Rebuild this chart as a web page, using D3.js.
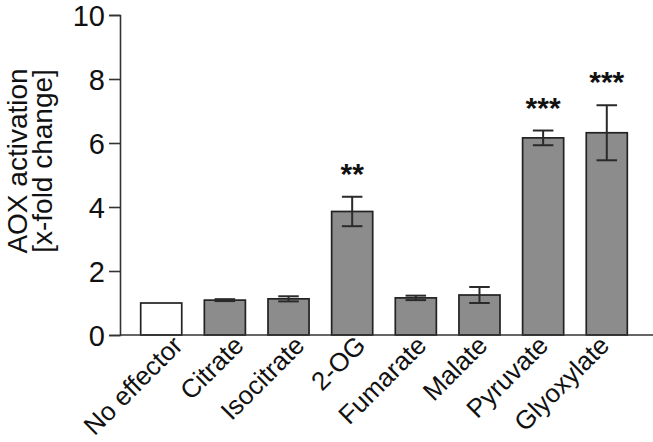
<!DOCTYPE html>
<html>
<head>
<meta charset="utf-8">
<script src="https://cdn.jsdelivr.net/npm/d3@7"></script>
<style>
  body { margin: 0; background: #fff; }
  text { font-family: "Liberation Sans", Arial, sans-serif; }
</style>
</head>
<body>
<svg id="chart"></svg>
<script>
const categories = ["No effector", "Citrate", "Isocitrate", "2-OG", "Fumarate", "Malate", "Pyruvate", "Glyoxylate"];
const means = [1.0, 1.09, 1.13, 3.86, 1.16, 1.25, 6.16, 6.32];
const errors = [0, 0.03, 0.08, 0.46, 0.07, 0.25, 0.23, 0.86];
const stars = ["", "", "", "**", "", "", "***", "***"];
const yTicks = [0, 2, 4, 6, 8, 10];

const width = 653, height = 442;
const margin = { top: 15, right: 5, bottom: 107, left: 120 };

const svg = d3.select("#chart")
  .attr("width", width)
  .attr("height", height);

const x = d3.scaleBand()
  .domain(categories)
  .range([margin.left, 648])
  .paddingInner(0.355)
  .paddingOuter(0.325);

const y = d3.scaleLinear()
  .domain([0, 10])
  .range([height - margin.bottom, margin.top]);

// rotated labels sit on a slightly tighter pitch than the bars
const xLabel = d3.scalePoint()
  .domain(categories)
  .range([x(categories[0]) + x.bandwidth() / 2 + 23, x(categories[7]) + x.bandwidth() / 2 + 4]);

const axisColor = "#333";

// y axis
const yAxis = svg.append("g")
  .attr("transform", `translate(${margin.left},0)`)
  .call(d3.axisLeft(y).tickValues(yTicks).tickSize(11).tickPadding(4));
yAxis.select(".domain").attr("stroke", axisColor).attr("stroke-width", 1.6);
yAxis.selectAll(".tick line").attr("stroke", axisColor).attr("stroke-width", 1.6);
yAxis.selectAll(".tick text")
  .attr("fill", "#111")
  .style("font-size", "29px")
  .attr("dy", "0.36em");

// y title
const title = svg.append("text")
  .attr("transform", "translate(27,161) rotate(-90)")
  .attr("text-anchor", "middle")
  .attr("fill", "#111")
  .style("font-size", "28px");
title.append("tspan").attr("x", 0).attr("y", 0).text("AOX activation");
title.append("tspan").attr("x", 0).attr("y", 25).text("[x-fold change]");

// bars
svg.selectAll(".bar")
  .data(categories)
  .enter()
  .append("rect")
  .attr("class", "bar")
  .attr("x", d => x(d))
  .attr("y", (d, i) => y(means[i]))
  .attr("width", x.bandwidth())
  .attr("height", (d, i) => y(0) - y(means[i]))
  .attr("fill", (d, i) => i === 0 ? "#fff" : "#8c8c8c")
  .attr("stroke", "#222")
  .attr("stroke-width", 1.7);

// error bars
const capW = x.bandwidth() / 4;
const err = svg.append("g")
  .attr("stroke", "#2a2a2a")
  .attr("stroke-width", 2);
categories.forEach((c, i) => {
  if (!errors[i]) return;
  const cx = x(c) + x.bandwidth() / 2;
  const hi = y(means[i] + errors[i]);
  const lo = y(means[i] - errors[i]);
  err.append("line").attr("x1", cx).attr("x2", cx).attr("y1", hi).attr("y2", lo);
  err.append("line").attr("x1", cx - capW).attr("x2", cx + capW).attr("y1", hi).attr("y2", hi);
  err.append("line").attr("x1", cx - capW).attr("x2", cx + capW).attr("y1", lo).attr("y2", lo);
});

// significance stars
svg.selectAll(".star")
  .data(categories)
  .enter()
  .append("text")
  .attr("class", "star")
  .attr("x", d => x(d) + x.bandwidth() / 2)
  .attr("y", (d, i) => y(means[i] + errors[i]) - 13)
  .attr("text-anchor", "middle")
  .attr("fill", "#111")
  .style("font-size", "30px")
  .style("font-weight", "bold")
  .text((d, i) => stars[i]);

// x axis
const xAxis = svg.append("g")
  .attr("transform", `translate(0,${y(0)})`)
  .call(d3.axisBottom(x).tickSize(0).tickSizeOuter(0));
xAxis.select(".domain")
  .attr("d", `M${margin.left},0H${width}`)
  .attr("stroke", axisColor)
  .attr("stroke-width", 1.6);
xAxis.selectAll(".tick").attr("transform", null);
xAxis.selectAll(".tick text")
  .attr("fill", "#111")
  .style("font-size", "26px")
  .attr("text-anchor", "end")
  .attr("dy", 0)
  .attr("y", 0)
  .attr("transform", d => `translate(${xLabel(d)},12) rotate(-45)`);
</script>
</body>
</html>
